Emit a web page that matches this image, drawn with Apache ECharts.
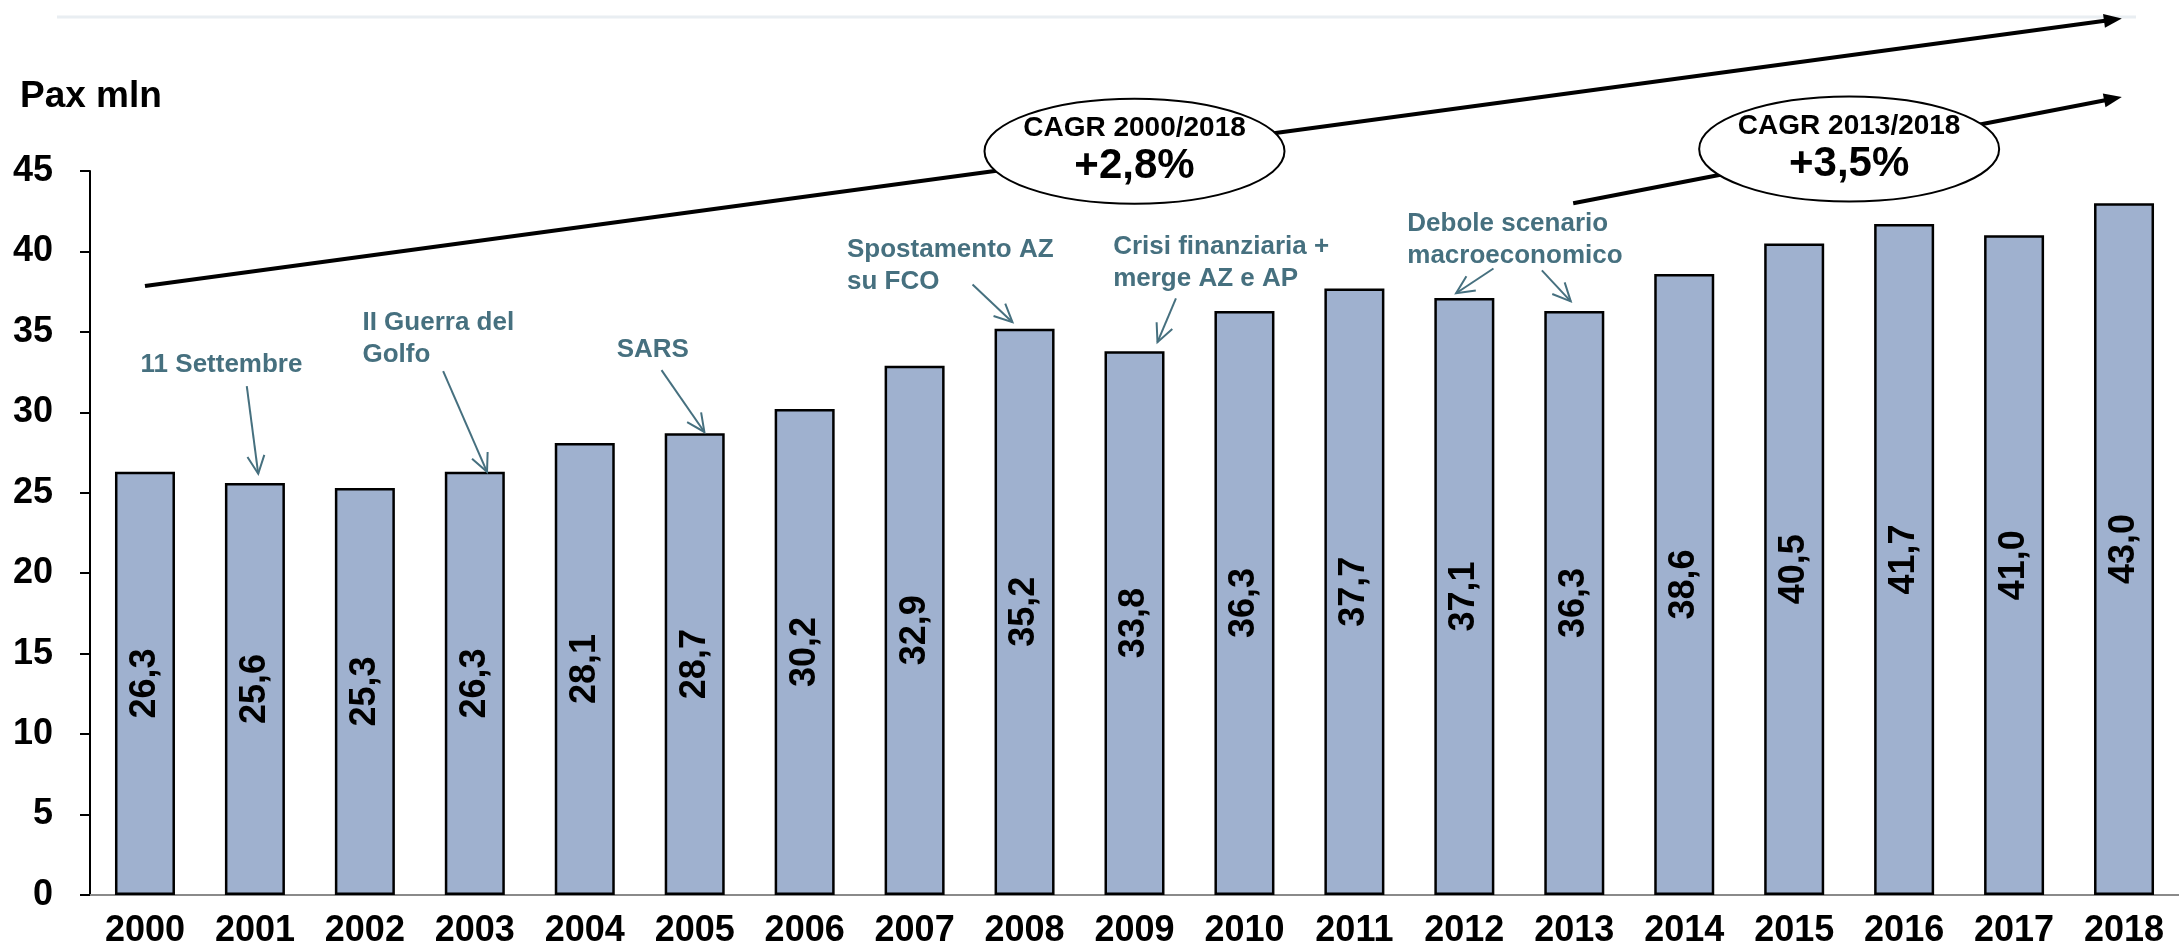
<!DOCTYPE html>
<html>
<head>
<meta charset="utf-8">
<style>
  html, body { margin: 0; padding: 0; background: #fff; }
  #chart { width: 2179px; height: 949px; }
</style>
<script src="https://cdn.jsdelivr.net/npm/echarts/dist/echarts.min.js"></script>
</head>
<body>
<div id="chart"></div>
<script>
// dati
const anni = ['2000', '2001', '2002', '2003', '2004', '2005', '2006', '2007', '2008', '2009',
  '2010', '2011', '2012', '2013', '2014', '2015', '2016', '2017', '2018'];
const passeggeri = [26.3, 25.6, 25.3, 26.3, 28.1, 28.7, 30.2, 32.9, 35.2, 33.8,
  36.3, 37.7, 37.1, 36.3, 38.6, 40.5, 41.7, 41.0, 43.0];
const asseY = { min: 0, max: 45, passo: 5 };

const noteTesti = ['11 Settembre', 'II Guerra del\nGolfo', 'SARS', 'Spostamento AZ\nsu FCO',
  'Crisi finanziaria +\nmerge AZ e AP', 'Debole scenario\nmacroeconomico'];
const cagrTitoli = ['CAGR 2000/2018', 'CAGR 2013/2018'];
const cagrValori = ['+2,8%', '+3,5%'];

// posizioni in coordinate dati [indice anno, valore]
const noteLayout = [
  { testo: [-0.04, 32.93], frecce: [[[0.926, 31.63], [1.03, 26.18]]] },
  { testo: [1.978, 35.54], frecce: [[[2.712, 32.56], [3.111, 26.3]]] },
  { testo: [4.29, 33.89], frecce: [[[4.698, 32.62], [5.088, 28.78]]] },
  { testo: [6.385, 40.12], frecce: [[[7.527, 37.95], [7.89, 35.6]]] },
  { testo: [8.806, 40.28], frecce: [[[9.377, 37.09], [9.209, 34.36]]] },
  { testo: [11.481, 41.73], frecce: [[[12.265, 38.94], [11.925, 37.4]], [[12.705, 38.82], [12.968, 36.9]]] }
];
const cagrLayout = [
  { da: [0, 37.85], a: [17.98, 54.48], ovale: [9.0, 46.23] },
  { da: [12.99, 43.0], a: [17.98, 49.6], ovale: [15.5, 46.37] }
];

const FONT = '"Liberation Sans", Arial, Helvetica, sans-serif';
const NARROW = '"Liberation Sans Narrow", "Arial Narrow", "Liberation Sans", Arial, sans-serif';
const TEAL = '#46707f';

const chart = echarts.init(document.getElementById('chart'));

chart.setOption({
  animation: false,
  title: {
    text: 'Pax mln', left: 20, top: 78, padding: 0,
    textStyle: { fontFamily: FONT, fontSize: 37, fontWeight: 'bold', color: '#000' }
  },
  grid: { left: 90, top: 171, width: 2095, height: 726 },
  xAxis: {
    type: 'category',
    data: anni,
    axisLine: { lineStyle: { color: '#8a8a8a', width: 2 } },
    axisTick: { show: false },
    axisLabel: { margin: 18, fontFamily: FONT, fontSize: 36, fontWeight: 'bold', color: '#000' }
  },
  yAxis: {
    type: 'value',
    min: asseY.min, max: asseY.max, interval: asseY.passo,
    axisLine: { show: true, lineStyle: { color: '#000', width: 2 } },
    axisTick: { show: true, length: 10, lineStyle: { color: '#000', width: 2 } },
    splitLine: { show: false },
    axisLabel: { margin: 37, fontFamily: FONT, fontSize: 36, fontWeight: 'bold', color: '#000' }
  },
  series: [{
    type: 'bar',
    data: passeggeri,
    barWidth: 60,
    itemStyle: { color: '#9fb1cf', borderColor: '#000', borderWidth: 2.5 },
    label: {
      show: true, position: 'inside', rotate: 90,
      formatter: p => p.value.toFixed(1).replace('.', ','),
      fontFamily: FONT, fontSize: 36, fontWeight: 'bold', color: '#000', textBorderWidth: 0
    }
  }]
});

// da coordinate dati a pixel (asse categorie interpolato tra due anni)
function P(c, v) {
  const a = chart.convertToPixel({ gridIndex: 0 }, [0, v]);
  const b = chart.convertToPixel({ gridIndex: 0 }, [1, v]);
  return [a[0] + c * (b[0] - a[0]), a[1]];
}

function freccia(el, da, a, colore, spessore, lung, semi, piena) {
  const dx = a[0] - da[0], dy = a[1] - da[1];
  const L = Math.hypot(dx, dy), ux = dx / L, uy = dy / L;
  const bx = a[0] - ux * lung, by = a[1] - uy * lung;
  const w1 = [bx - uy * semi, by + ux * semi];
  const w2 = [bx + uy * semi, by - ux * semi];
  if (piena) {
    el.push({ type: 'line', z: 100, shape: { x1: da[0], y1: da[1], x2: bx + ux, y2: by + uy },
      style: { stroke: colore, lineWidth: spessore } });
    el.push({ type: 'polygon', z: 100, shape: { points: [a, w1, w2] }, style: { fill: colore } });
  } else {
    el.push({ type: 'line', z: 100, shape: { x1: da[0], y1: da[1], x2: a[0], y2: a[1] },
      style: { stroke: colore, lineWidth: spessore } });
    el.push({ type: 'polyline', z: 100, shape: { points: [w1, a, w2] },
      style: { stroke: colore, lineWidth: spessore, fill: null } });
  }
}

const el = [];
// riga chiara in alto
el.push({ type: 'line', z: 1, shape: { x1: 57, y1: 17, x2: 2136, y2: 17 },
  style: { stroke: '#e9eef2', lineWidth: 3 } });

// note con frecce
noteLayout.forEach((n, i) => {
  const t = P(n.testo[0], n.testo[1]);
  el.push({
    type: 'text', z: 100,
    style: {
      text: noteTesti[i], x: t[0], y: t[1] - 16,
      font: 'bold 26px ' + FONT, fill: TEAL, lineHeight: 32,
      align: 'left', verticalAlign: 'top', textAlign: 'left', textVerticalAlign: 'top'
    }
  });
  n.frecce.forEach(f => {
    freccia(el, P(f[0][0], f[0][1]), P(f[1][0], f[1][1]), TEAL, 2, 18, 8.5, false);
  });
});

// CAGR
cagrLayout.forEach((c, i) => {
  freccia(el, P(c.da[0], c.da[1]), P(c.a[0], c.a[1]), '#000', 4, 18, 7, true);
  const o = P(c.ovale[0], c.ovale[1]);
  el.push({ type: 'ellipse', z: 110, shape: { cx: o[0], cy: o[1], rx: 150, ry: 52.5 },
    style: { fill: '#fff', stroke: '#000', lineWidth: 2 } });
  el.push({ type: 'text', z: 120, style: {
    text: cagrTitoli[i], x: o[0], y: o[1] - 23, font: 'bold 28px ' + NARROW, fill: '#000',
    align: 'center', verticalAlign: 'middle', textAlign: 'center', textVerticalAlign: 'middle' } });
  el.push({ type: 'text', z: 120, style: {
    text: cagrValori[i], x: o[0], y: o[1] + 15, font: 'bold 42px ' + FONT, fill: '#000',
    align: 'center', verticalAlign: 'middle', textAlign: 'center', textVerticalAlign: 'middle' } });
});

chart.setOption({ graphic: { elements: el } });
</script>
</body>
</html>
